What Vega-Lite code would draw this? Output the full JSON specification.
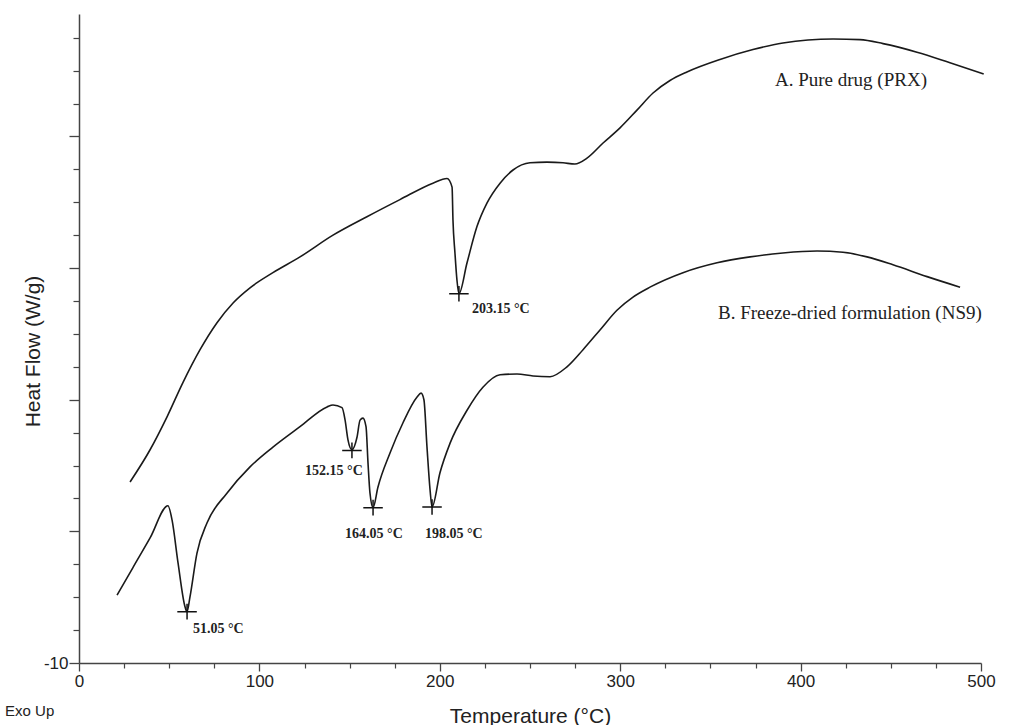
{
  "$schema": "https://vega.github.io/schema/vega-lite/v6.json",
  "width": 902,
  "height": 649,
  "autosize": {"type": "none"},
  "padding": {"left": 79, "top": 14, "right": 34, "bottom": 62},
  "background": "white",
  "config": {"view": {"stroke": null}, "font": "Liberation Sans"},
  "resolve": {"axis": {"x": "independent", "y": "independent"}},
  "datasets": {
    "curves": [
      {"s": "A", "T": 28.3, "V": -7.25},
      {"s": "A", "T": 39.4, "V": -6.76},
      {"s": "A", "T": 48.8, "V": -6.26},
      {"s": "A", "T": 57.6, "V": -5.74},
      {"s": "A", "T": 67.1, "V": -5.24},
      {"s": "A", "T": 76.5, "V": -4.83},
      {"s": "A", "T": 85.4, "V": -4.53},
      {"s": "A", "T": 94.8, "V": -4.30},
      {"s": "A", "T": 107.5, "V": -4.07},
      {"s": "A", "T": 122.5, "V": -3.83},
      {"s": "A", "T": 140.8, "V": -3.50},
      {"s": "A", "T": 159.6, "V": -3.22},
      {"s": "A", "T": 177.9, "V": -2.96},
      {"s": "A", "T": 196.2, "V": -2.71},
      {"s": "A", "T": 204.0, "V": -2.64},
      {"s": "A", "T": 206.8, "V": -2.77},
      {"s": "A", "T": 207.3, "V": -3.27},
      {"s": "A", "T": 208.4, "V": -3.77},
      {"s": "A", "T": 209.5, "V": -4.18},
      {"s": "A", "T": 210.6, "V": -4.39},
      {"s": "A", "T": 215.1, "V": -3.92},
      {"s": "A", "T": 220.6, "V": -3.37},
      {"s": "A", "T": 226.2, "V": -3.01},
      {"s": "A", "T": 233.4, "V": -2.71},
      {"s": "A", "T": 240.6, "V": -2.51},
      {"s": "A", "T": 250.0, "V": -2.40},
      {"s": "A", "T": 259.4, "V": -2.39},
      {"s": "A", "T": 268.3, "V": -2.40},
      {"s": "A", "T": 274.9, "V": -2.42},
      {"s": "A", "T": 281.6, "V": -2.33},
      {"s": "A", "T": 290.5, "V": -2.10},
      {"s": "A", "T": 299.9, "V": -1.87},
      {"s": "A", "T": 309.3, "V": -1.60},
      {"s": "A", "T": 318.2, "V": -1.34},
      {"s": "A", "T": 327.6, "V": -1.15},
      {"s": "A", "T": 337.0, "V": -1.02},
      {"s": "A", "T": 355.3, "V": -0.83},
      {"s": "A", "T": 373.6, "V": -0.68},
      {"s": "A", "T": 390.2, "V": -0.58},
      {"s": "A", "T": 418.0, "V": -0.52},
      {"s": "A", "T": 432.9, "V": -0.53},
      {"s": "A", "T": 445.7, "V": -0.59},
      {"s": "A", "T": 464.5, "V": -0.72},
      {"s": "A", "T": 482.8, "V": -0.88},
      {"s": "A", "T": 501.5, "V": -1.05},
      {"s": "B", "T": 21.1, "V": -8.97},
      {"s": "B", "T": 29.9, "V": -8.55},
      {"s": "B", "T": 39.4, "V": -8.10},
      {"s": "B", "T": 49.3, "V": -7.61},
      {"s": "B", "T": 51.6, "V": -7.83},
      {"s": "B", "T": 54.9, "V": -8.48},
      {"s": "B", "T": 58.8, "V": -9.15},
      {"s": "B", "T": 59.9, "V": -9.22},
      {"s": "B", "T": 61.5, "V": -9.00},
      {"s": "B", "T": 65.4, "V": -8.33},
      {"s": "B", "T": 71.0, "V": -7.87},
      {"s": "B", "T": 82.0, "V": -7.42},
      {"s": "B", "T": 94.8, "V": -7.02},
      {"s": "B", "T": 107.5, "V": -6.72},
      {"s": "B", "T": 122.5, "V": -6.41},
      {"s": "B", "T": 137.5, "V": -6.11},
      {"s": "B", "T": 140.8, "V": -6.08},
      {"s": "B", "T": 145.8, "V": -6.12},
      {"s": "B", "T": 147.5, "V": -6.31},
      {"s": "B", "T": 149.1, "V": -6.61},
      {"s": "B", "T": 151.3, "V": -6.76},
      {"s": "B", "T": 154.1, "V": -6.57},
      {"s": "B", "T": 155.8, "V": -6.31},
      {"s": "B", "T": 157.4, "V": -6.28},
      {"s": "B", "T": 159.1, "V": -6.41},
      {"s": "B", "T": 160.2, "V": -6.96},
      {"s": "B", "T": 161.3, "V": -7.42},
      {"s": "B", "T": 163.0, "V": -7.64},
      {"s": "B", "T": 165.7, "V": -7.33},
      {"s": "B", "T": 172.4, "V": -6.81},
      {"s": "B", "T": 179.6, "V": -6.35},
      {"s": "B", "T": 187.4, "V": -5.96},
      {"s": "B", "T": 189.6, "V": -5.90},
      {"s": "B", "T": 191.2, "V": -6.00},
      {"s": "B", "T": 192.9, "V": -6.72},
      {"s": "B", "T": 194.6, "V": -7.37},
      {"s": "B", "T": 195.7, "V": -7.63},
      {"s": "B", "T": 200.1, "V": -7.11},
      {"s": "B", "T": 205.7, "V": -6.66},
      {"s": "B", "T": 215.1, "V": -6.16},
      {"s": "B", "T": 223.9, "V": -5.81},
      {"s": "B", "T": 233.4, "V": -5.62},
      {"s": "B", "T": 242.8, "V": -5.61},
      {"s": "B", "T": 251.7, "V": -5.64},
      {"s": "B", "T": 261.1, "V": -5.65},
      {"s": "B", "T": 270.5, "V": -5.50},
      {"s": "B", "T": 279.4, "V": -5.24},
      {"s": "B", "T": 288.8, "V": -4.94},
      {"s": "B", "T": 298.2, "V": -4.64},
      {"s": "B", "T": 307.1, "V": -4.44},
      {"s": "B", "T": 316.5, "V": -4.29},
      {"s": "B", "T": 334.8, "V": -4.07},
      {"s": "B", "T": 353.7, "V": -3.92},
      {"s": "B", "T": 372.0, "V": -3.83},
      {"s": "B", "T": 390.2, "V": -3.77},
      {"s": "B", "T": 409.1, "V": -3.74},
      {"s": "B", "T": 423.5, "V": -3.76},
      {"s": "B", "T": 436.8, "V": -3.83},
      {"s": "B", "T": 451.2, "V": -3.95},
      {"s": "B", "T": 470.1, "V": -4.13},
      {"s": "B", "T": 488.4, "V": -4.29}
    ],
    "peaks": [
      {"T": 210.6, "V": -4.39, "lt": 217.8, "lv": -4.62, "label": "203.15 °C"},
      {"T": 59.9, "V": -9.22, "lt": 63.2, "lv": -9.48, "label": "51.05 °C"},
      {"T": 151.3, "V": -6.77, "lt": 125.3, "lv": -7.08, "label": "152.15 °C"},
      {"T": 163.0, "V": -7.64, "lt": 147.5, "lv": -8.04, "label": "164.05 °C"},
      {"T": 195.7, "V": -7.63, "lt": 191.8, "lv": -8.04, "label": "198.05 °C"}
    ],
    "names": [
      {"T": 385.8, "V": -1.14, "label": "A. Pure drug (PRX)"},
      {"T": 354.2, "V": -4.68, "label": "B. Freeze-dried formulation (NS9)"}
    ],
    "corner": [
      {"T": -41.0, "V": -10.73, "label": "Exo Up"}
    ]
  },
  "layer": [
    {
      "data": {"name": "curves"},
      "mark": {"type": "line", "interpolate": "monotone", "stroke": "#1a1a1a", "strokeWidth": 1.6, "clip": false},
      "encoding": {
        "x": {
          "field": "T", "type": "quantitative",
          "scale": {"domain": [0, 500], "nice": false, "zero": false},
          "axis": {
            "orient": "bottom",
            "values": [0, 100, 200, 300, 400, 500],
            "tickSize": 8,
            "grid": false,
            "domainColor": "#444", "domainWidth": 1.5,
            "tickColor": "#444", "tickWidth": 1.3,
            "labelFont": "Liberation Sans", "labelFontSize": 17, "labelColor": "#222",
            "labelPadding": 2, "labelOverlap": false, "labelFlush": false,
            "title": "Temperature (°C)",
            "titleFont": "Liberation Sans", "titleFontSize": 21, "titleFontWeight": "normal", "titleColor": "#222",
            "titleY": 53, "titleBaseline": "middle"
          }
        },
        "y": {
          "field": "V", "type": "quantitative",
          "scale": {"domain": [-10, -0.14], "nice": false, "zero": false},
          "axis": {
            "orient": "left",
            "values": [-10, -8, -6, -4, -2],
            "labelExpr": "datum.value === -10 ? '-10' : ''",
            "tickSize": 10,
            "grid": false,
            "domainColor": "#444", "domainWidth": 1.5,
            "tickColor": "#444", "tickWidth": 1.3,
            "labelFont": "Liberation Sans", "labelFontSize": 17, "labelColor": "#222",
            "labelPadding": 1, "labelOverlap": false, "labelFlush": false,
            "title": "Heat Flow (W/g)",
            "titleFont": "Liberation Sans", "titleFontSize": 21, "titleFontWeight": "normal", "titleColor": "#222",
            "titleX": -46, "titleY": 337, "titleAlign": "center", "titleBaseline": "middle", "titleAngle": -90
          }
        },
        "detail": {"field": "s", "type": "nominal"}
      }
    },
    {
      "data": {"name": "peaks"},
      "mark": {"type": "point", "shape": "M-1,0L1,0M0,-0.8L0,0.8", "size": 380, "filled": false, "stroke": "#111", "strokeWidth": 1.5, "opacity": 1, "clip": false},
      "encoding": {
        "x": {
          "field": "T", "type": "quantitative",
          "axis": {
            "orient": "bottom",
            "values": [25, 50, 75, 125, 150, 175, 225, 250, 275, 325, 350, 375, 425, 450, 475],
            "tickSize": 5, "tickColor": "#444", "tickWidth": 1.2,
            "labels": false, "domain": false, "grid": false, "title": null
          }
        },
        "y": {
          "field": "V", "type": "quantitative",
          "axis": {
            "orient": "left",
            "values": [-9.5, -9, -8.5, -7.5, -7, -6.5, -5.5, -5, -4.5, -3.5, -3, -2.5, -1.5, -1, -0.5],
            "tickSize": 6, "tickColor": "#444", "tickWidth": 1.2,
            "labels": false, "domain": false, "grid": false, "title": null
          }
        }
      }
    },
    {
      "data": {"name": "peaks"},
      "mark": {"type": "text", "align": "left", "baseline": "middle", "font": "Liberation Serif", "fontWeight": "bold", "fontSize": 14, "color": "#222", "clip": false},
      "encoding": {
        "x": {"field": "lt", "type": "quantitative", "axis": null},
        "y": {"field": "lv", "type": "quantitative", "axis": null},
        "text": {"field": "label", "type": "nominal"}
      }
    },
    {
      "data": {"name": "names"},
      "mark": {"type": "text", "align": "left", "baseline": "middle", "font": "Liberation Serif", "fontSize": 19, "color": "#222", "clip": false},
      "encoding": {
        "x": {"field": "T", "type": "quantitative", "axis": null},
        "y": {"field": "V", "type": "quantitative", "axis": null},
        "text": {"field": "label", "type": "nominal"}
      }
    },
    {
      "data": {"name": "corner"},
      "mark": {"type": "text", "align": "left", "baseline": "middle", "font": "Liberation Sans", "fontSize": 15, "color": "#222", "clip": false},
      "encoding": {
        "x": {"field": "T", "type": "quantitative", "axis": null},
        "y": {"field": "V", "type": "quantitative", "axis": null},
        "text": {"field": "label", "type": "nominal"}
      }
    }
  ]
}
